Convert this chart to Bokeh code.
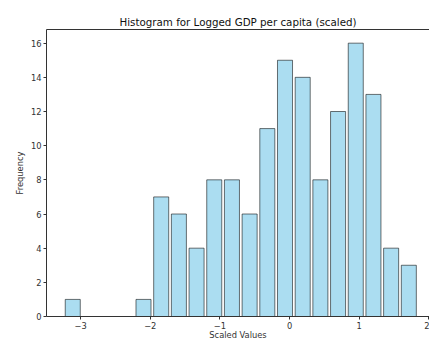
import numpy as np
from bokeh.plotting import figure
from bokeh.models import LinearAxis, FixedTicker, Range1d, ColumnDataSource
from bokeh.embed import file_html
from bokeh.resources import INLINE

# Data (20 bins)
bin_start = -3.24
bin_end = 1.84
counts = [1, 0, 0, 0, 1, 7, 6, 4, 8, 8, 6, 11, 15, 14, 8, 12, 16, 13, 4, 3]
x_ticks = [-3, -2, -1, 0, 1, 2]
y_ticks = [0, 2, 4, 6, 8, 10, 12, 14, 16]
rwidth = 0.85

edges = np.linspace(bin_start, bin_end, len(counts) + 1)
centers = (edges[:-1] + edges[1:]) / 2
bw = (edges[1] - edges[0]) * rwidth
src = ColumnDataSource(dict(left=centers - bw / 2, right=centers + bw / 2,
                            top=counts, bottom=[0] * len(counts)))

p = figure(width=429, height=342, output_backend="svg", toolbar_location=None,
           x_range=Range1d(-3.49, 2.01), y_range=Range1d(0, 16.8),
           min_border_left=46, min_border_right=0, min_border_top=29, min_border_bottom=24,
           title="Histogram for Logged GDP per capita (scaled)")
p.outline_line_color = None
p.xgrid.visible = False
p.ygrid.visible = False
p.background_fill_color = "white"
p.border_fill_color = "white"

p.title.align = "center"
p.title.text_font = "DejaVu Sans"
p.title.text_font_size = "10.3px"
p.title.text_font_style = "normal"
p.title.text_color = "#111111"
p.title.standoff = 3

p.quad(left="left", right="right", top="top", bottom="bottom", source=src,
       fill_color="#87CEEB", fill_alpha=0.7, line_color="black", line_alpha=0.55, line_width=1)

minus = "\u2212"
for ax in (p.xaxis[0], p.yaxis[0]):
    ax.major_label_text_font = "DejaVu Sans"
    ax.major_label_text_font_size = "8.3px"
    ax.major_label_text_color = "#333333"
    ax.axis_label_text_font = "DejaVu Sans"
    ax.axis_label_text_font_size = "8.3px"
    ax.axis_label_text_font_style = "normal"
    ax.axis_label_text_color = "#333333"
    ax.minor_tick_line_color = None
    ax.major_tick_in = 0
    ax.major_tick_out = 3
    ax.axis_line_color = "#333333"
    ax.major_tick_line_color = "#333333"
    ax.major_label_standoff = 2

p.xaxis[0].ticker = FixedTicker(ticks=x_ticks)
p.xaxis[0].major_label_overrides = {t: (minus + str(abs(t)) if t < 0 else str(t)) for t in x_ticks}
p.xaxis[0].axis_label = "Scaled Values"
p.xaxis[0].axis_label_standoff = -2
p.yaxis[0].ticker = FixedTicker(ticks=y_ticks)
p.yaxis[0].axis_label = "Frequency"
p.yaxis[0].axis_label_standoff = 3

top_axis = LinearAxis(ticker=FixedTicker(ticks=[]), major_label_text_font_size="0px",
                      major_tick_out=0, major_tick_in=0, minor_tick_out=0, minor_tick_in=0,
                      axis_line_color="#333333")
p.add_layout(top_axis, "above")

open("out.html", "w").write(file_html(p, INLINE))
